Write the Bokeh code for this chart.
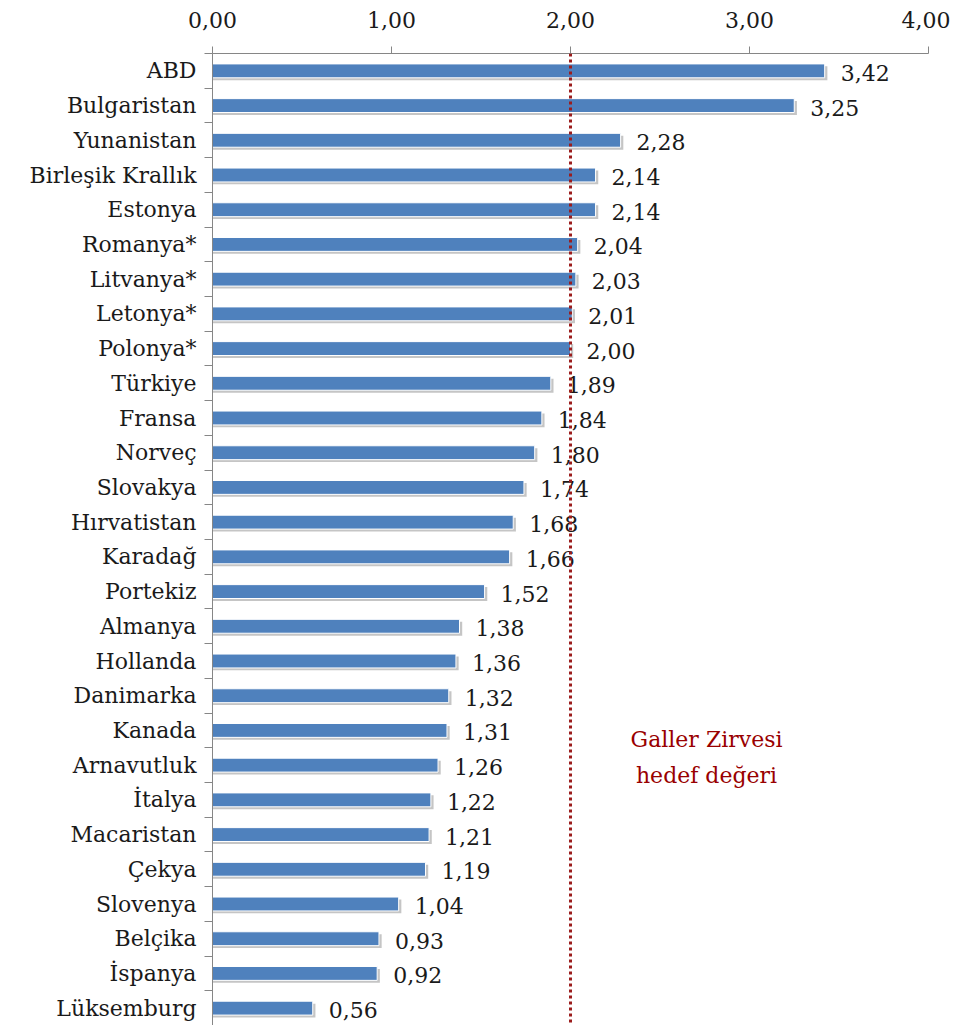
from bokeh.plotting import figure
from bokeh.models import Range1d, LinearAxis, FixedTicker, CustomJSTickFormatter, Span, Label, ColumnDataSource
from bokeh.transform import dodge
from bokeh.embed import file_html
from bokeh.resources import INLINE
from bokeh.core.properties import value

countries = ["ABD", "Bulgaristan", "Yunanistan", "Birleşik Krallık", "Estonya",
             "Romanya*", "Litvanya*", "Letonya*", "Polonya*", "Türkiye", "Fransa",
             "Norveç", "Slovakya", "Hırvatistan", "Karadağ", "Portekiz", "Almanya",
             "Hollanda", "Danimarka", "Kanada", "Arnavutluk", "İtalya", "Macaristan",
             "Çekya", "Slovenya", "Belçika", "İspanya", "Lüksemburg"]
values = [3.42, 3.25, 2.28, 2.14, 2.14, 2.04, 2.03, 2.01, 2.00, 1.89, 1.84,
          1.80, 1.74, 1.68, 1.66, 1.52, 1.38, 1.36, 1.32, 1.31, 1.26, 1.22, 1.21,
          1.19, 1.04, 0.93, 0.92, 0.56]
xticks = [0, 1, 2, 3, 4]
target = 2.0
note = "Galler Zirvesi\nhedef değeri"

FONT = "DejaVu Serif"
n = len(countries)
ypos = [n - 0.5 - i for i in range(n)]
labels = [f"{v:.2f}".replace(".", ",") for v in values]
src = ColumnDataSource(dict(y=ypos, v=values, lab=labels, name=countries))

p = figure(width=950, height=1025, output_backend="svg", toolbar_location=None,
           x_range=Range1d(0, 4), y_range=Range1d(0, n),
           x_axis_location="above", y_axis_location=None,
           min_border_left=212, min_border_right=22, min_border_top=53, min_border_bottom=0)
p.outline_line_color = None
p.grid.visible = False
p.background_fill_color = "white"

ax = p.xaxis[0]
ax.ticker = FixedTicker(ticks=xticks)
ax.formatter = CustomJSTickFormatter(code="return tick.toFixed(2).replace('.', ',');")
ax.minor_tick_line_color = None
ax.major_tick_in = 0
ax.major_tick_out = 7
ax.axis_line_color = "#868686"
ax.major_tick_line_color = "#868686"
ax.major_label_text_font = FONT
ax.major_label_text_font_size = "22px"
ax.major_label_text_color = "#1a1a1a"
ax.major_label_standoff = 19

tick_axis = LinearAxis(ticker=FixedTicker(ticks=list(range(n + 1))),
                       major_label_overrides={i: "" for i in range(n + 1)},
                       major_label_text_font_size="1px", major_label_text_color=None,
                       major_label_standoff=0,
                       major_tick_in=0, major_tick_out=8, minor_tick_line_color=None,
                       axis_line_color="#868686", major_tick_line_color="#868686")
p.add_layout(tick_axis, "left")

label_axis = LinearAxis(ticker=FixedTicker(ticks=ypos),
                        major_label_overrides={y: nm for y, nm in zip(ypos, countries)},
                        axis_line_color=None, major_tick_line_color=None,
                        minor_tick_line_color=None, major_label_standoff=2,
                        major_label_text_font=FONT, major_label_text_font_size="22px",
                        major_label_text_color="#1a1a1a")
p.add_layout(label_axis, "left")

p.hbar(y=dodge("y", -0.07), left=0, right=dodge("v", 0.015), height=0.4, source=src,
       fill_color="#8c8c8c", fill_alpha=0.5, line_color=None)
p.hbar(y="y", left=0, right="v", height=0.4, source=src,
       fill_color="#4F81BD", line_color="white", line_width=1)

p.text(x="v", y="y", text="lab", source=src, x_offset=16, y_offset=2,
       text_align="left", text_baseline="middle", text_font=value(FONT),
       text_font_size="22px", text_color="#1a1a1a")

p.add_layout(Span(location=target, dimension="height", line_color="#9B1C1C",
                  line_width=3, line_dash="3 3"))
p.add_layout(Label(x=2.76, y=7.72, text=note, text_align="center", text_baseline="middle",
                   text_font=FONT, text_font_size="22px", text_color="#990000",
                   text_line_height=1.45))

open("out.html", "w").write(file_html(p, INLINE))
